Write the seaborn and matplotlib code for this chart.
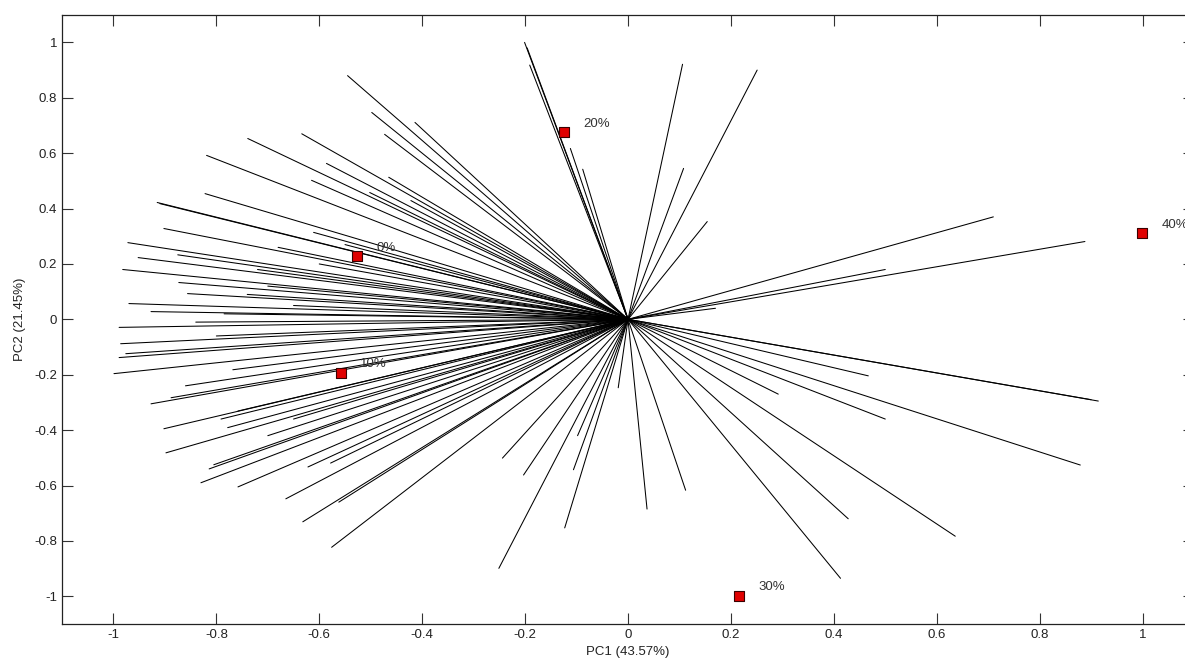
import matplotlib
matplotlib.use("Agg")
import matplotlib.pyplot as plt
import numpy as np
import pandas as pd
import seaborn as sns

# variable loadings (end points of the lines, start at the origin)
load_x = [-0.201, -0.196, -0.191, -0.112, -0.088,
          -0.545, -0.498, -0.414, -0.473, -0.634, -0.739, -0.819, -0.586, -0.615, -0.465,
          -0.822, -0.502, -0.422, -0.915, -0.910, -0.902, -0.611, -0.972, -0.952, -0.875,
          -0.982, -0.873, -0.856, -0.970, -0.927, -0.785, -0.989, -0.700, -0.650, -0.800, -0.720,
          -0.550, -0.600, -0.680, -0.740, -0.840,
          -0.986, -0.976, -0.989, -0.999, -0.768, -0.927, -0.888, -0.902, -0.778, -0.791,
          -0.758, -0.898, -0.814, -0.805, -0.830, -0.758, -0.622, -0.578, -0.665, -0.632,
          -0.562, -0.576, -0.700, -0.650, -0.860,
          -0.244, -0.203, -0.251, -0.123, -0.106, -0.098, -0.019,
          0.106, 0.251, 0.108, 0.154, 0.710, 0.888, 0.500, 0.170,
          0.914, 0.900, 0.879, 0.500, 0.467, 0.292, 0.636, 0.428, 0.413, 0.112, 0.037]
load_y = [1.000, 0.980, 0.918, 0.617, 0.542,
          0.880, 0.747, 0.711, 0.668, 0.670, 0.653, 0.592, 0.563, 0.502, 0.513,
          0.454, 0.458, 0.429, 0.422, 0.418, 0.328, 0.314, 0.277, 0.223, 0.233,
          0.180, 0.133, 0.093, 0.057, 0.028, 0.020, -0.029, 0.120, 0.050, -0.060, 0.180,
          0.270, 0.200, 0.260, 0.090, -0.010,
          -0.088, -0.124, -0.138, -0.196, -0.182, -0.305, -0.283, -0.395, -0.391, -0.360,
          -0.331, -0.482, -0.540, -0.525, -0.590, -0.605, -0.533, -0.519, -0.648, -0.731,
          -0.660, -0.823, -0.420, -0.360, -0.240,
          -0.501, -0.562, -0.899, -0.753, -0.543, -0.420, -0.247,
          0.921, 0.900, 0.545, 0.353, 0.370, 0.281, 0.180, 0.040,
          -0.295, -0.290, -0.526, -0.360, -0.204, -0.270, -0.783, -0.720, -0.935, -0.617, -0.685]

# sample scores
sample_x = [-0.527, -0.558, -0.125, 0.215, 0.999]
sample_y = [0.227, -0.193, 0.675, -1.000, 0.310]
sample_labels = ["0%", "10%", "20%", "30%", "40%"]

tick_vals = [-1, -0.8, -0.6, -0.4, -0.2, 0, 0.2, 0.4, 0.6, 0.8, 1]
tick_labels = ["-1", "-0.8", "-0.6", "-0.4", "-0.2", "0", "0.2", "0.4", "0.6", "0.8", "1"]

sns.set_style("ticks")
plt.rcParams["font.family"] = ["Liberation Sans", "DejaVu Sans"]

rows = []
for i, (lx, ly) in enumerate(zip(load_x, load_y)):
    rows.append({"var": i, "x": 0.0, "y": 0.0})
    rows.append({"var": i, "x": lx, "y": ly})
lines = pd.DataFrame(rows)
samples = pd.DataFrame({"x": sample_x, "y": sample_y, "label": sample_labels})

fig = plt.figure(figsize=(11.85, 6.64), dpi=100)
ax = fig.add_axes([62 / 1185, 1 - 624 / 664, (1194 - 62) / 1185, (624 - 14.7) / 664])

sns.lineplot(data=lines, x="x", y="y", units="var", estimator=None, sort=False,
             color="black", lw=0.75, ax=ax, legend=False)
sns.scatterplot(data=samples, x="x", y="y", marker="s", s=60, color="#e00000",
                edgecolor="#3a0000", linewidth=0.8, ax=ax, legend=False, zorder=5)
for _, r in samples.iterrows():
    ax.text(r["x"] + 0.038, r["y"] + 0.032, r["label"], fontsize=9.5, color="#333333",
            ha="left", va="center")

ax.set_xlim(-1.1, 1.1)
ax.set_ylim(-1.1, 1.1)
ax.set_xticks(tick_vals)
ax.set_xticklabels(tick_labels)
ax.set_yticks(tick_vals)
ax.set_yticklabels(tick_labels)
ax.tick_params(direction="in", length=8, width=0.8, top=True, right=True,
               labelsize=9.5, labelcolor="#222222", colors="#333333")
for s in ax.spines.values():
    s.set_visible(True)
    s.set_linewidth(0.9)
    s.set_color("#222222")
ax.set_xlabel("PC1 (43.57%)", fontsize=9.5, labelpad=4, color="#222222")
ax.set_ylabel("PC2 (21.45%)", fontsize=9.5, labelpad=6, color="#222222")

fig.savefig("out.png", dpi=100)
